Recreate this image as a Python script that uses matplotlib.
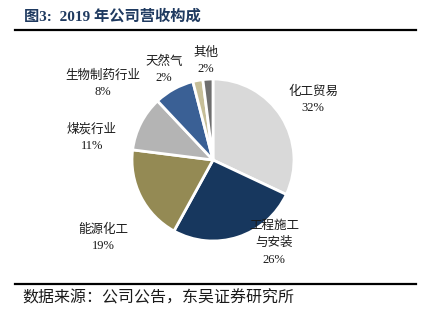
import matplotlib
matplotlib.use('Agg')
import matplotlib.pyplot as plt
from matplotlib.lines import Line2D

plt.rcParams['font.family'] = ['Liberation Serif', 'Noto Sans CJK SC']

segments = ['化工贸易', '工程施工\n与安装', '能源化工', '煤炭行业', '生物制药行业', '天然气', '其他']
shares = [32, 26, 19, 11, 8, 2, 2]
colors = ['#D9D9D9', '#17375E', '#948A54', '#B4B4B4', '#3A6095', '#C6BE98', '#6E6E6E']

# label centres in pixels (x, y from top)
label_pos = [(313, 100), (274, 243), (103, 238), (92, 138), (103, 84), (164, 70), (206, 61)]

W, H = 422, 325
fig = plt.figure(figsize=(W / 100, H / 100), dpi=100)
ax = fig.add_axes([0, 0, 1, 1])

ax.pie(shares, colors=colors, startangle=90, counterclock=False,
       center=(213, H - 160), radius=81,
       wedgeprops=dict(edgecolor='white', linewidth=2))
# pie resets the limits, so set them afterwards
ax.set_xlim(0, W)
ax.set_ylim(0, H)
ax.set_aspect('equal')
ax.axis('off')

for name, val, (x, y) in zip(segments, shares, label_pos):
    ax.text(x, H - y, f'{name}\n{val}%', ha='center', va='center',
            fontsize=9, linespacing=1.5, color='#1a1a1a')

ax.text(24, H - 16, '图3:  2019 年公司营收构成', ha='left', va='center',
        fontsize=11, fontweight='bold', color='#1F3A60')
ax.add_line(Line2D([15, 416], [H - 30, H - 30], color='black', lw=1.6))
ax.add_line(Line2D([15, 416], [H - 284, H - 284], color='black', lw=1.6))
ax.text(22, H - 298, '数据来源：公司公告，东吴证券研究所', ha='left', va='center',
        fontsize=11.5, color='#1a1a1a')

fig.savefig('out.png', dpi=100)
